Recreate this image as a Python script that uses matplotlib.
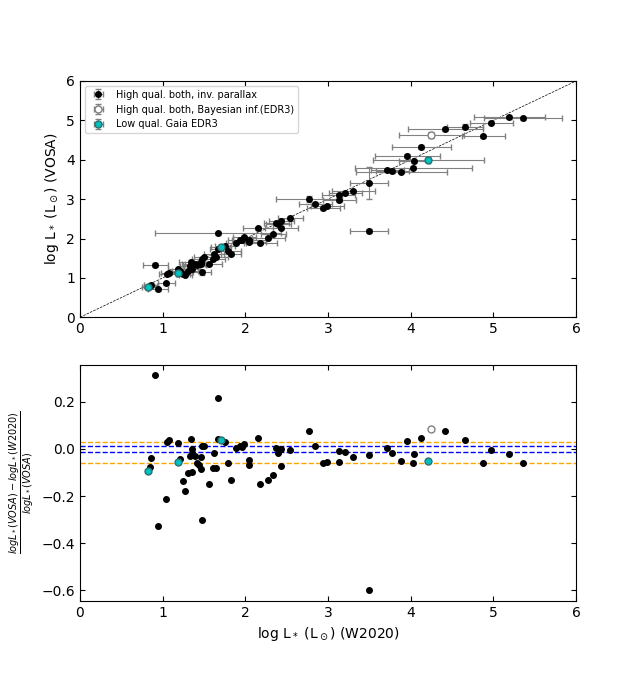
import numpy as np
import matplotlib
matplotlib.use("Agg")
import matplotlib.pyplot as plt

# High quality both, inverse parallax
x_hq = [0.911, 1.673, 2.774, 2.847, 1.056, 1.080, 1.190, 1.347, 1.669, 1.758,
        2.157, 0.859, 0.851, 1.044, 0.947, 1.214, 1.250, 1.274, 1.306, 1.355,
        1.359, 1.331, 1.351, 1.395, 1.419, 1.440, 1.460, 1.460, 1.472, 1.504,
        1.480, 1.564, 1.625, 1.609, 1.645, 1.794, 1.831, 1.891, 1.939, 1.956,
        1.988, 2.048, 2.048, 2.181, 2.278, 2.339, 2.375, 2.399, 2.435, 2.435,
        2.544, 2.943, 2.991, 3.129, 3.210, 3.137, 3.306, 3.500, 3.500, 3.718,
        3.779, 3.887, 3.960, 4.032, 4.044, 4.129, 4.419, 4.661, 4.879, 4.976,
        5.193, 5.363]
y_hq = [1.324, 2.128, 2.999, 2.879, 1.086, 1.124, 1.219, 1.405, 1.740, 1.809,
        2.259, 0.826, 0.790, 0.861, 0.714, 1.163, 1.099, 1.081, 1.184, 1.233,
        1.358, 1.290, 1.327, 1.352, 1.337, 1.347, 1.344, 1.411, 1.488, 1.521,
        1.137, 1.361, 1.596, 1.487, 1.520, 1.691, 1.617, 1.897, 1.961, 1.970,
        2.029, 1.956, 1.916, 1.898, 2.012, 2.105, 2.382, 2.357, 2.433, 2.269,
        2.529, 2.774, 2.832, 3.098, 3.166, 2.971, 3.194, 3.408, 2.190, 3.729,
        3.712, 3.695, 4.095, 3.800, 3.957, 4.324, 4.777, 4.840, 4.599, 4.946,
        5.081, 5.055]
xerr_hq = [0.15, 0.76, 0.40, 0.20, 0.10, 0.10, 0.12, 0.15, 0.10, 0.12,
           0.18, 0.08, 0.08, 0.10, 0.12, 0.10, 0.08, 0.08, 0.12, 0.10,
           0.12, 0.12, 0.10, 0.12, 0.10, 0.10, 0.10, 0.12, 0.12, 0.12,
           0.11, 0.15, 0.12, 0.14, 0.14, 0.15, 0.12, 0.12, 0.15, 0.12,
           0.14, 0.20, 0.20, 0.20, 0.20, 0.15, 0.15, 0.15, 0.15, 0.20,
           0.15, 0.20, 0.20, 0.20, 0.20, 0.20, 0.26, 0.23, 0.23, 0.20,
           0.20, 0.55, 0.39, 0.71, 0.19, 0.36, 0.45, 0.22, 0.26, 0.26,
           0.43, 0.47]
yerr_hq = [0.06, 0.04, 0.07, 0.04, 0.04, 0.04, 0.04, 0.04, 0.04, 0.04,
           0.04, 0.04, 0.04, 0.04, 0.04, 0.04, 0.04, 0.04, 0.04, 0.04,
           0.04, 0.04, 0.04, 0.04, 0.04, 0.04, 0.04, 0.04, 0.04, 0.04,
           0.06, 0.04, 0.04, 0.04, 0.04, 0.04, 0.04, 0.04, 0.04, 0.04,
           0.04, 0.04, 0.04, 0.04, 0.04, 0.04, 0.04, 0.04, 0.04, 0.04,
           0.04, 0.04, 0.04, 0.04, 0.04, 0.04, 0.04, 0.41, 0.04, 0.04,
           0.04, 0.04, 0.04, 0.04, 0.04, 0.04, 0.04, 0.07, 0.04, 0.04,
           0.04, 0.04]
r_hq = [0.312, 0.214, 0.075, 0.011, 0.028, 0.039, 0.024, 0.041, 0.041, 0.028,
        0.045, -0.040, -0.077, -0.213, -0.327, -0.044, -0.137, -0.179, -0.103, -0.099,
        -0.001, -0.032, -0.018, -0.032, -0.061, -0.069, -0.086, -0.035, 0.011, 0.011,
        -0.302, -0.149, -0.018, -0.082, -0.082, -0.061, -0.132, 0.003, 0.011, 0.007,
        0.020, -0.047, -0.069, -0.149, -0.132, -0.111, 0.003, -0.018, -0.001, -0.073,
        -0.006, -0.061, -0.056, -0.010, -0.014, -0.056, -0.035, -0.027, -0.598, 0.003,
        -0.018, -0.052, 0.033, -0.061, -0.022, 0.045, 0.075, 0.037, -0.061, -0.006,
        -0.022, -0.061]

# High quality both, Bayesian inference (EDR3)
x_bay = [4.25]
y_bay = [4.635]
xerr_bay = [0.39]
yerr_bay = [0.08]
r_bay = [0.083]

# Low quality Gaia EDR3
x_lq = [0.827, 1.190, 1.709, 4.214]
y_lq = [0.756, 1.127, 1.775, 4.006]
xerr_lq = [0.08, 0.12, 0.12, 0.67]
yerr_lq = [0.06, 0.06, 0.06, 0.06]
r_lq = [-0.094, -0.056, 0.037, -0.052]

# Reference levels in the residual panel
blue_levels = [0.011, -0.014]
orange_levels = [0.028, -0.058]

fig, (ax1, ax2) = plt.subplots(2, 1, figsize=(6.4, 6.75), dpi=100)

ax1.plot([0, 6], [0, 6], 'k--', lw=0.5)
ax1.errorbar(x_hq, y_hq, xerr=xerr_hq, yerr=yerr_hq, fmt='o', color='k', ms=4,
             ecolor='gray', elinewidth=0.8, capsize=2,
             label='High qual. both, inv. parallax')
ax1.errorbar(x_bay, y_bay, xerr=xerr_bay, yerr=yerr_bay, fmt='o', mfc='white',
             mec='gray', ms=5, ecolor='gray', elinewidth=0.8, capsize=2,
             label='High qual. both, Bayesian inf.(EDR3)')
ax1.errorbar(x_lq, y_lq, xerr=xerr_lq, yerr=yerr_lq, fmt='o', mfc='c',
             mec='#2f6f6f', ms=5, ecolor='gray', elinewidth=0.8, capsize=2,
             label='Low qual. Gaia EDR3')
ax1.set_xlim(0, 6)
ax1.set_ylim(0, 6)
ax1.set_ylabel(r'log L$_*$ (L$_\odot$) (VOSA)')
ax1.legend(loc='upper left', fontsize=7)

for v in orange_levels:
    ax2.axhline(v, color='orange', ls='--', lw=1)
for v in blue_levels:
    ax2.axhline(v, color='blue', ls='--', lw=1)
ax2.plot(x_hq, r_hq, 'o', color='k', ms=4)
ax2.plot(x_bay, r_bay, 'o', mfc='white', mec='gray', ms=5)
ax2.plot(x_lq, r_lq, 'o', mfc='c', mec='#2f6f6f', ms=5)
ax2.set_xlim(0, 6)
ax2.set_ylim(-0.6435, 0.3575)
ax2.set_yticks([-0.6, -0.4, -0.2, 0.0, 0.2])
ax2.set_xlabel(r'log L$_*$ (L$_\odot$) (W2020)')
ax2.set_ylabel(r'$\frac{logL_*(VOSA) - logL_*(W2020)}{logL_*(VOSA)}$', fontsize=10)

for ax in (ax1, ax2):
    ax.tick_params(direction='in', top=True, right=True)

fig.savefig('out.png')
